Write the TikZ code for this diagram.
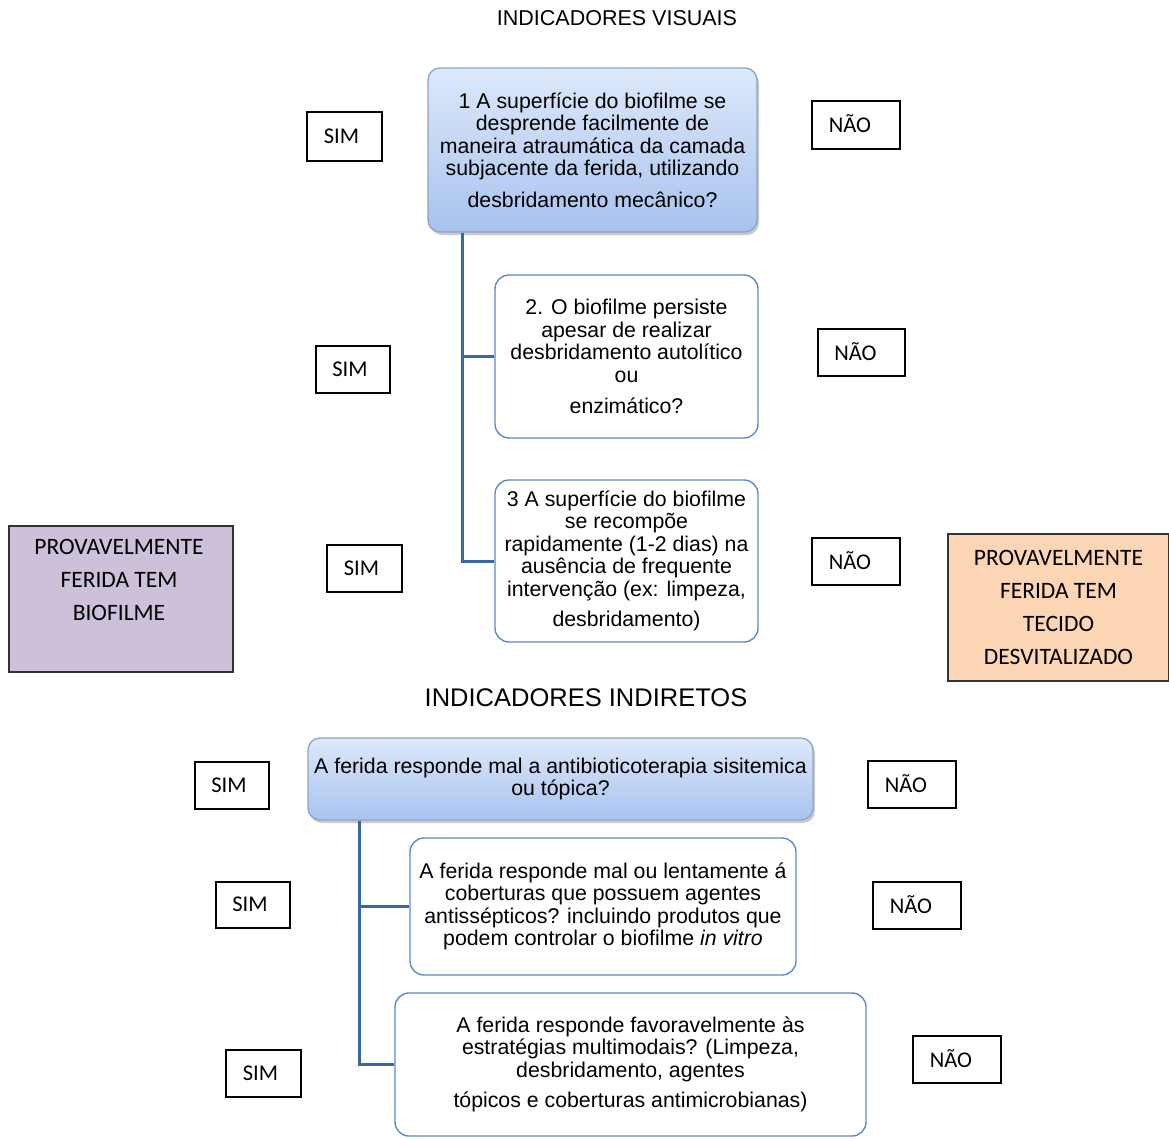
\documentclass[tikz,border=0pt]{standalone}
\usepackage{fontspec}
\setmainfont{Liberation Sans}
\newfontfamily\labelfont{Carlito}
\usetikzlibrary{shadows}
\definecolor{qborder}{HTML}{5B8AC9}
\definecolor{gborder}{HTML}{8EA3C2}
\definecolor{gtop}{HTML}{DDE8FA}
\definecolor{gbot}{HTML}{A8C3EE}
\definecolor{trunkblue}{HTML}{3A67A3}
\definecolor{lilac}{HTML}{CCC0DA}
\definecolor{peach}{HTML}{FCD5B5}
\tikzset{
  x=1pt, y=-1pt,
  qtext/.style={align=center, font=\fontsize{21.3}{22.5}\selectfont, inner sep=0pt},
  mainq/.style={qtext, draw=gborder, line width=1.3pt, rounded corners=12pt,
    top color=gtop, bottom color=gbot,
    drop shadow={shadow xshift=2pt, shadow yshift=-3pt, opacity=0.35, fill=black!60}},
  subq/.style={qtext, draw=qborder, line width=1.4pt, rounded corners=14pt, fill=white},
  answer/.style={draw=black, line width=1.4pt, fill=white,
    font=\labelfont\fontsize{22.5}{24}\selectfont, inner sep=0pt},
  verdict/.style={draw=black!80, line width=1.8pt, align=center,
    font=\labelfont\fontsize{23.5}{33}\selectfont, inner sep=0pt},
  header/.style={font=\fontsize{21.5}{24}\selectfont, inner sep=0pt},
  trunk/.style={draw=trunkblue, line width=3pt},
}
\begin{document}
\begin{tikzpicture}
\useasboundingbox (0,0) rectangle (1169,1138);

% ---------- visual indicators ----------
\node[header] (h1) at (617,18) {INDICADORES VISUAIS};

\node[mainq, minimum width=329pt, minimum height=164pt] (q1) at (592.5,150)
  {1 A superfície do biofilme se\\ desprende facilmente de\\ maneira atraumática da camada\\ subjacente da ferida, utilizando\\[9pt] desbridamento mecânico?};

\node[subq, minimum width=263pt, minimum height=163pt] (q2) at (626.5,356.5)
  {2. O biofilme persiste\\ apesar de realizar\\ desbridamento autolítico\\ ou\\[9pt] enzimático?};

\node[subq, minimum width=263pt, minimum height=162pt] (q3) at (626.5,561)
  {3 A superfície do biofilme\\ se recompõe\\ rapidamente (1-2 dias) na\\ ausência de frequente\\ intervenção (ex: limpeza,\\[8pt] desbridamento)};

\coordinate (t1) at (462,0);
\draw[trunk] (t1 |- q1.south) |- (q2.west);
\draw[trunk] (t1 |- q1.south) |- (q3.west);

\node[answer, minimum width=75pt, minimum height=49pt] (s1) at (344.5,136.5) {\raisebox{1pt}{SIM}\hspace*{6pt}};
\node[answer, minimum width=74pt, minimum height=47pt] (s2) at (353,369.5) {\raisebox{1pt}{SIM}\hspace*{6pt}};
\node[answer, minimum width=75pt, minimum height=47pt] (s3) at (364.5,568.5) {\raisebox{1pt}{SIM}\hspace*{6pt}};

\node[answer, minimum width=88pt, minimum height=48pt] (n1) at (856,125) {\raisebox{2pt}{NÃO}\hspace*{12pt}};
\node[answer, minimum width=87pt, minimum height=47pt] (n2) at (861.5,352.5) {\raisebox{2pt}{NÃO}\hspace*{12pt}};
\node[answer, minimum width=88pt, minimum height=47pt] (n3) at (856,561.5) {\raisebox{2pt}{NÃO}\hspace*{12pt}};

\node[verdict, fill=lilac, minimum width=224pt, minimum height=146pt] (v1) at (121,599)
  {};
\node[font=\labelfont\fontsize{23.5}{33}\selectfont, align=center, inner sep=0pt, anchor=north] (v1t) at (119,539)
  {PROVAVELMENTE\\ FERIDA TEM\\ BIOFILME};

\node[verdict, fill=peach, minimum width=221pt, minimum height=147pt] (v2) at (1058.5,607.5)
  {PROVAVELMENTE\\ FERIDA TEM\\ TECIDO\\ DESVITALIZADO};

% ---------- indirect indicators ----------
\node[header, font=\fontsize{25.5}{28}\selectfont] (h2) at (586,698) {INDICADORES INDIRETOS};

\node[mainq, minimum width=505pt, minimum height=82pt] (q4) at (560.5,779)
  {A ferida responde mal a antibioticoterapia sisitemica\\ ou tópica?};

\node[subq, minimum width=386pt, minimum height=137pt] (q5) at (603,906.5)
  {A ferida responde mal ou lentamente á\\ coberturas que possuem agentes\\ antissépticos? incluindo produtos que\\ podem controlar o biofilme \textit{in vitro}};

\node[subq, minimum width=471pt, minimum height=143pt] (q6) at (630.5,1064.5)
  {A ferida responde favoravelmente às\\ estratégias multimodais? (Limpeza,\\ desbridamento, agentes\\[8pt] tópicos e coberturas antimicrobianas)};

\coordinate (t2) at (359,0);
\draw[trunk] (t2 |- q4.south) |- (q5.west);
\draw[trunk] (t2 |- q4.south) |- (q6.west);

\node[answer, minimum width=74pt, minimum height=47pt] (s4) at (232,785.5) {\raisebox{1pt}{SIM}\hspace*{6pt}};
\node[answer, minimum width=74pt, minimum height=46pt] (s5) at (253,905) {\raisebox{1pt}{SIM}\hspace*{6pt}};
\node[answer, minimum width=75pt, minimum height=47pt] (s6) at (263.5,1073.5) {\raisebox{1pt}{SIM}\hspace*{6pt}};

\node[answer, minimum width=88pt, minimum height=47pt] (n4) at (912,784.5) {\raisebox{2pt}{NÃO}\hspace*{12pt}};
\node[answer, minimum width=88pt, minimum height=47pt] (n5) at (917,905.5) {\raisebox{2pt}{NÃO}\hspace*{12pt}};
\node[answer, minimum width=88pt, minimum height=47pt] (n6) at (957,1059.5) {\raisebox{2pt}{NÃO}\hspace*{12pt}};
\end{tikzpicture}
\end{document}
